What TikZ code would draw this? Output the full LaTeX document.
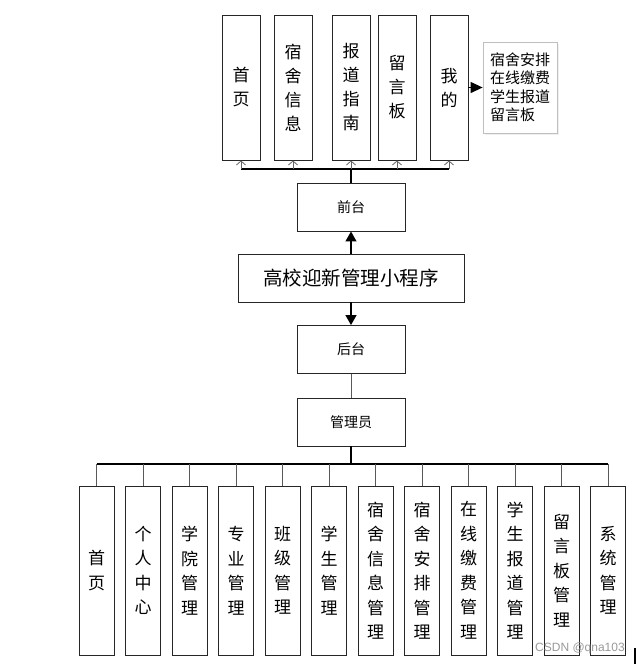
\documentclass[tikz,border=0pt]{standalone}
\usepackage{fontspec}
\setmainfont{Noto Sans CJK SC}
\newfontfamily\wmfont{Liberation Sans}
\usetikzlibrary{arrows.meta,shadows}
\begin{document}
\begin{tikzpicture}[x=1pt,y=-1pt,
  box/.style={draw=black!85,line width=0.9pt,fill=white,inner sep=0pt,align=center},
  tbox/.style={box,minimum width=38pt,minimum height=145pt,font=\fontsize{17}{24}\selectfont},
  bbox/.style={box,minimum width=35pt,minimum height=169pt,font=\fontsize{17}{24.5}\selectfont},
  mbox/.style={box,minimum width=108pt,minimum height=48pt,font=\fontsize{14}{16}\selectfont},
  upline/.style={draw=black!60,line width=0.8pt,-{Straight Barb[length=4pt,width=9pt,line width=0.8pt]}},
  bigarrow/.style={draw=black,line width=1.3pt,-{Triangle[length=10pt,width=11pt]}},
  bus/.style={draw=black,line width=1.3pt},
  drop/.style={draw=black!65,line width=0.9pt}
]
\useasboundingbox (0,0) rectangle (636,664);
% top boxes
\node[tbox] (t1) at (241,87.5) {首\\页};
\node[tbox] (t2) at (293,87.5) {宿\\舍\\信\\息};
\node[tbox] (t3) at (351,87.5) {报\\道\\指\\南};
\node[tbox] (t4) at (397,87.5) {留\\言\\板};
\node[tbox] (t5) at (449,87.5) {我\\的};
\node[draw=black!25,line width=0.8pt,fill=white,drop shadow={opacity=0.12,shadow xshift=1.5pt,shadow yshift=-1.5pt},
      minimum width=74pt,minimum height=91pt,inner sep=0pt,align=left,
      font=\fontsize{15}{18.5}\selectfont] (side) at (520,87.5) {宿舍安排\\在线缴费\\学生报道\\留言板};
\draw[draw=black,line width=1.2pt,-{Triangle[length=12pt,width=11pt]}] (t5.east) -- (side.west);
% front / main / back / admin
\node[mbox] (front) at (351,207) {前台};
\node[box,minimum width=226pt,minimum height=48pt,font=\fontsize{19.5}{22}\selectfont] (main) at (351,278) {高校迎新管理小程序};
\node[mbox] (back) at (351,349.5) {后台};
\node[mbox] (admin) at (351,422) {管理员};
\coordinate (topbus) at (351,169);
\draw[bus] (front.north) -- (topbus);
\draw[bus] (t1.south |- topbus) -- (t5.south |- topbus);
\foreach \n in {t1,t2,t3,t4,t5}{\draw[upline] (\n.south |- topbus) -- (\n.south);}
\draw[bigarrow] (main.north) -- (front.south);
\draw[bigarrow] (main.south) -- (back.north);
\draw[drop] (back.south) -- (admin.north);
% bottom boxes
\foreach \i/\t in {1/{首\\页},2/{个\\人\\中\\心},3/{学\\院\\管\\理},4/{专\\业\\管\\理},5/{班\\级\\管\\理},6/{学\\生\\管\\理},7/{宿\\舍\\信\\息\\管\\理},8/{宿\\舍\\安\\排\\管\\理},9/{在\\线\\缴\\费\\管\\理},10/{学\\生\\报\\道\\管\\理},11/{留\\言\\板\\管\\理},12/{系\\统\\管\\理}}{
  \node[bbox] (b\i) at ({96.5+(\i-1)*46.5},570.5) {\t};
}
\coordinate (botbus) at (351,464);
\draw[bus] (admin.south) -- (botbus);
\draw[bus] (b1.north |- botbus) -- (b12.north |- botbus);
\foreach \i in {1,...,12}{\draw[drop] (b\i.north |- botbus) -- (b\i.north);}
% watermark
\node[text=black!40,font=\wmfont\fontsize{12}{12}\selectfont,inner sep=0pt] (wm) at (580,648) {CSDN @qna103};
\fill[black] (633.5,648) rectangle (636,664);
\end{tikzpicture}
\end{document}
